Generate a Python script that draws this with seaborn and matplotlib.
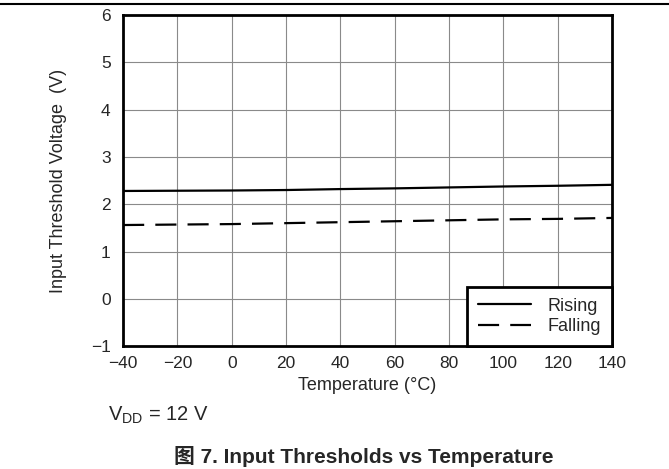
import numpy as np
import pandas as pd
import matplotlib
matplotlib.use('Agg')
import matplotlib.pyplot as plt
import seaborn as sns
from matplotlib.lines import Line2D

temps = [-40, -20, 0, 20, 40, 60, 80, 100, 120, 140]
rising = [2.28, 2.285, 2.29, 2.30, 2.32, 2.335, 2.355, 2.375, 2.39, 2.41]
falling = [1.56, 1.57, 1.58, 1.60, 1.62, 1.64, 1.66, 1.68, 1.69, 1.71]
series_names = ['Rising', 'Falling']

xticks = [-40, -20, 0, 20, 40, 60, 80, 100, 120, 140]
yticks = [-1, 0, 1, 2, 3, 4, 5, 6]

df = pd.DataFrame({
    'Temperature': temps * 2,
    'Voltage': rising + falling,
    'Edge': [series_names[0]] * len(temps) + [series_names[1]] * len(temps),
})

sns.set_style('white')
plt.rcParams['font.family'] = ['Liberation Sans', 'Noto Sans CJK SC', 'DejaVu Sans']
plt.rcParams['axes.unicode_minus'] = True

fig = plt.figure(figsize=(6.69, 4.69), dpi=100)
ax = fig.add_axes([0.184, 0.262, 0.731, 0.706])

dash = (9.5, 5)
sns.lineplot(data=df, x='Temperature', y='Voltage', style='Edge',
             dashes={'Rising': '', 'Falling': dash}, color='black',
             linewidth=1.6, ax=ax, legend=False)

ax.set_xlim(-40, 140)
ax.set_ylim(-1, 6)
ax.set_xticks(xticks)
ax.set_yticks(yticks)
ax.tick_params(axis='y', length=0, pad=9, labelsize=12.5)
ax.tick_params(axis='x', length=0, pad=7, labelsize=12.5)
ax.grid(True, color='#8a8a8a', linewidth=0.8)
for s in ax.spines.values():
    s.set_visible(True)
    s.set_color('black')
    s.set_linewidth(2)

ax.set_xlabel('Temperature (°C)', fontsize=13)
ax.set_ylabel('Input Threshold Voltage  (V)', fontsize=13)
ax.xaxis.set_label_coords(0.5, -0.094)
ax.yaxis.set_label_coords(-0.115, 0.5)

handles = [Line2D([], [], color='black', linewidth=1.6),
           Line2D([], [], color='black', linewidth=1.6, dashes=dash)]
leg = ax.legend(handles, series_names, loc='lower right', borderaxespad=0,
                fancybox=False, framealpha=1, edgecolor='black',
                fontsize=13, handlelength=2.9, borderpad=0.6,
                labelspacing=0.2, handletextpad=0.95)
leg.get_frame().set_linewidth(2)

fig.text(0.161, 0.104, r'V$_{\mathregular{DD}}$ = 12 V', fontsize=14.5,
         va='baseline')
fig.text(0.544, 0.013, '图 7. Input Thresholds vs Temperature', fontsize=15,
         fontweight='bold', ha='center', va='baseline')
fig.add_artist(Line2D([0, 1], [0.992, 0.992], color='black', linewidth=1.5,
                      transform=fig.transFigure))

fig.savefig('out.png', dpi=100)
